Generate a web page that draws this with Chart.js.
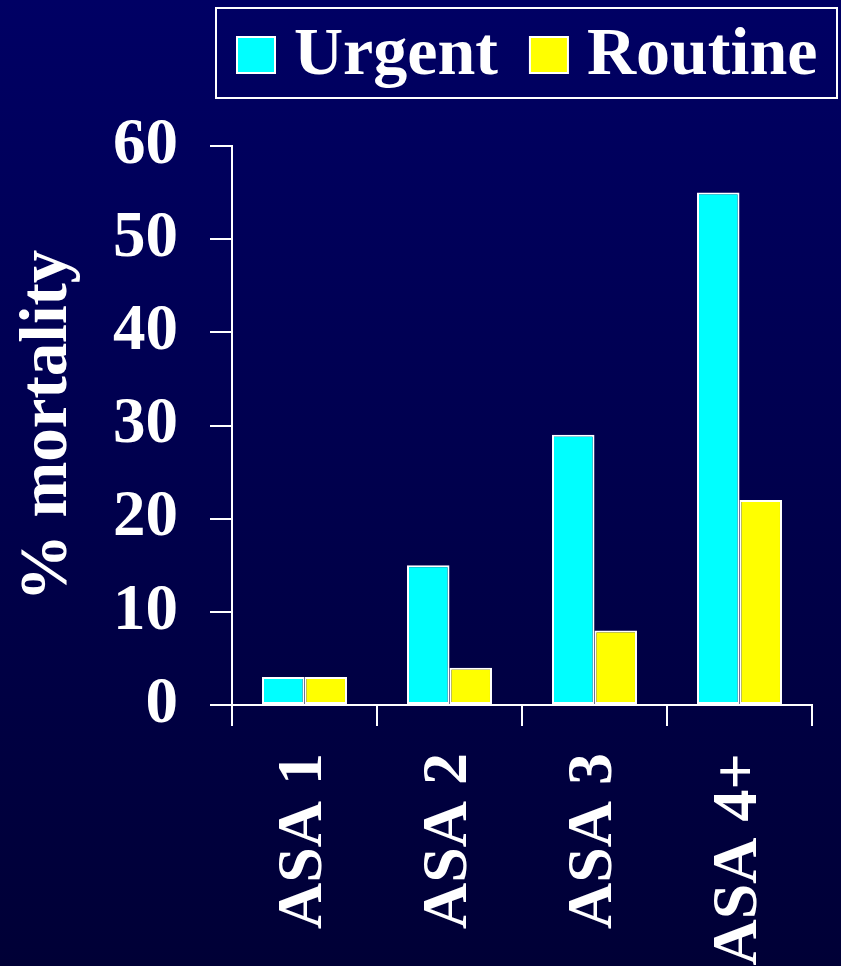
<!DOCTYPE html>
<html>
<head>
<meta charset="utf-8">
<script src="https://cdn.jsdelivr.net/npm/chart.js@4.4.1/dist/chart.umd.min.js"></script>
<style>
  html, body { margin: 0; padding: 0; background: #000044; }
  canvas { display: block; }
</style>
</head>
<body>
<canvas id="chart" width="841" height="966"></canvas>
<script>
// data
const categories = ["ASA 1", "ASA 2", "ASA 3", "ASA 4+"];
const seriesNames = ["Urgent", "Routine"];
const urgentValues = [3, 15, 29, 55];
const routineValues = [3, 4, 8, 22];
const yTicks = [0, 10, 20, 30, 40, 50, 60];
const yTitle = "% mortality";

const SERIF = "'Liberation Serif', 'Times New Roman', Times, serif";
const WHITE = "#ffffff";

// dark blue slide background
const slideBackground = {
    id: "slideBackground",
    beforeDraw(chart) {
        const { ctx, width, height } = chart;
        const grad = ctx.createLinearGradient(0, 0, 0, height);
        grad.addColorStop(0, "#000064");
        grad.addColorStop(1, "#000036");
        ctx.save();
        ctx.fillStyle = grad;
        ctx.fillRect(0, 0, width, height);
        ctx.restore();
    },
};

// legend in a white frame, like the original slide
const boxedLegend = {
    id: "boxedLegend",
    afterDraw(chart) {
        const ctx = chart.ctx;
        ctx.save();
        ctx.strokeStyle = WHITE;
        ctx.lineWidth = 2;
        ctx.strokeRect(216, 8, 621, 90);
        ctx.font = "bold 68px " + SERIF;
        ctx.textBaseline = "alphabetic";
        let x = 237;
        chart.data.datasets.forEach((ds) => {
            ctx.fillStyle = ds.backgroundColor;
            ctx.fillRect(x, 37, 38, 36);
            ctx.strokeStyle = WHITE;
            ctx.lineWidth = 2;
            ctx.strokeRect(x, 37, 38, 36);
            x += 38 + 19;
            ctx.fillStyle = WHITE;
            ctx.fillText(ds.label, x, 74);
            x += ctx.measureText(ds.label).width + 32;
        });
        ctx.restore();
    },
};

const barStyle = {
    borderColor: WHITE,
    borderWidth: 2,
    borderSkipped: false,
    categoryPercentage: 0.586,
    barPercentage: 1.0,
};

new Chart(document.getElementById("chart"), {
    type: "bar",
    data: {
        labels: categories,
        datasets: [
            { label: seriesNames[0], data: urgentValues, backgroundColor: "#00ffff", ...barStyle },
            { label: seriesNames[1], data: routineValues, backgroundColor: "#ffff00", ...barStyle },
        ],
    },
    options: {
        responsive: false,
        animation: false,
        devicePixelRatio: 1,
        layout: { padding: { top: 146, right: 29, left: 0, bottom: 0 } },
        plugins: {
            legend: { display: false },
            tooltip: { enabled: false },
        },
        scales: {
            x: {
                offset: true,
                grid: {
                    offset: true,
                    drawOnChartArea: false,
                    drawTicks: true,
                    tickLength: 21,
                    color: WHITE,
                    lineWidth: 2,
                },
                border: { display: true, color: WHITE, width: 2 },
                ticks: {
                    color: WHITE,
                    font: { family: SERIF, size: 64, weight: "bold" },
                    minRotation: 90,
                    maxRotation: 90,
                    padding: 27,
                    autoSkip: false,
                },
                afterFit: (axis) => {
                    axis.height = 261;
                    // the rotated labels need no side room here
                    axis.paddingLeft = 0;
                    axis.paddingRight = 0;
                },
            },
            y: {
                min: yTicks[0],
                max: yTicks[yTicks.length - 1],
                grid: {
                    drawOnChartArea: false,
                    drawTicks: true,
                    tickLength: 22,
                    color: WHITE,
                    lineWidth: 2,
                },
                border: { display: true, color: WHITE, width: 2 },
                ticks: {
                    stepSize: yTicks[1] - yTicks[0],
                    color: WHITE,
                    font: { family: SERIF, size: 65, weight: "bold" },
                    padding: 32,
                },
                title: {
                    display: true,
                    text: yTitle,
                    color: WHITE,
                    font: { family: SERIF, size: 67, weight: "bold" },
                    padding: { top: 8, bottom: 0 },
                },
                afterFit: (axis) => { axis.width = 232; },
            },
        },
    },
    plugins: [slideBackground, boxedLegend],
});
</script>
</body>
</html>
